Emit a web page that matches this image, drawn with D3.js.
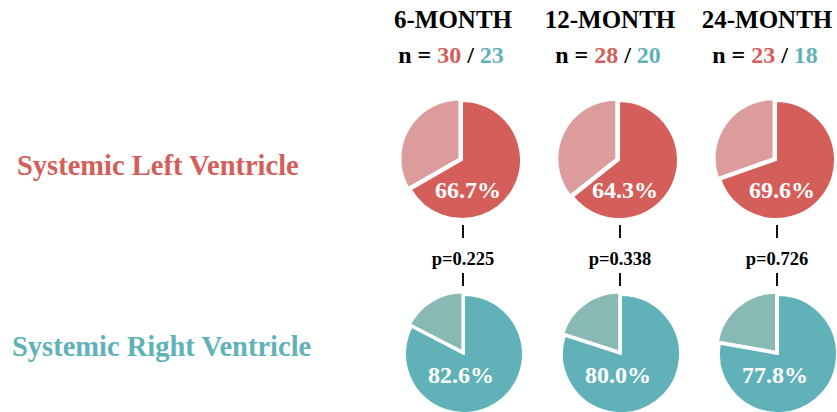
<!DOCTYPE html>
<html><head><meta charset="utf-8">
<script src="https://cdn.jsdelivr.net/npm/d3@7"></script>
<style>body{margin:0;background:#fff}svg{display:block}</style>
</head><body>
<svg id="c" width="837" height="412"></svg>
<script>
const periods = ["6-MONTH", "12-MONTH", "24-MONTH"];
const nLeft = [30, 28, 23];
const nRight = [23, 20, 18];
const leftPct = [66.7, 64.3, 69.6];
const rightPct = [82.6, 80.0, 77.8];
const pValues = ["0.225", "0.338", "0.726"];
const rowLabels = ["Systemic Left Ventricle", "Systemic Right Ventricle"];

const RED = "#d45e5a", RED_L = "#dc9c9b", TEAL = "#60b2b8", TEAL_L = "#89b9b5";
const FONT = "'Liberation Serif', 'Times New Roman', Times, 'DejaVu Serif', serif";

const svg = d3.select("#c").attr("font-family", FONT).attr("font-weight", "bold");
const x = d3.scalePoint().domain(periods).range([462, 776]);
const y = d3.scalePoint().domain(rowLabels).range([160, 354]);
const R = 59;

// headers
periods.forEach((p, i) => {
  const cx = x(p);
  svg.append("text").attr("x", cx - 9).attr("y", 28).attr("text-anchor", "middle")
    .attr("font-size", 25).attr("fill", "#000").text(p);
  const t = svg.append("text").attr("x", cx - 11).attr("y", 63).attr("text-anchor", "middle")
    .attr("font-size", 24).attr("fill", "#000");
  t.append("tspan").text("n = ");
  t.append("tspan").attr("fill", RED).text(nLeft[i]);
  t.append("tspan").text(" / ");
  t.append("tspan").attr("fill", TEAL).text(nRight[i]);
});

// row labels
svg.append("text").attr("x", 17).attr("y", 175).attr("font-size", 28.5)
  .attr("fill", RED).text(rowLabels[0]);
svg.append("text").attr("x", 12).attr("y", 356).attr("font-size", 28.5)
  .attr("fill", TEAL).text(rowLabels[1]);

const pie = d3.pie().sort(null).value(d => d);
const arc = d3.arc().innerRadius(0).outerRadius(R);

function drawPie(cx, cy, pct, dark, light, lx, ly) {
  const g = svg.append("g").attr("transform", `translate(${cx},${cy})`);
  const arcs = pie([pct, 100 - pct]);
  arcs.forEach((a, j) => {
    let tx = 0, ty = 0;
    if (j === 1) {
      const m = (a.startAngle + a.endAngle) / 2;
      tx = Math.sin(m) * 3; ty = -Math.cos(m) * 3;
    }
    g.append("path").attr("d", arc(a)).attr("transform", `translate(${tx},${ty})`)
      .attr("fill", j === 0 ? dark : light).attr("stroke", "#fff").attr("stroke-width", 2)
      .attr("stroke-linejoin", "round");
  });
  g.append("text").attr("x", lx).attr("y", ly).attr("text-anchor", "middle")
    .attr("font-size", 24).attr("fill", "#fff").text(pct.toFixed(1) + "%");
}

periods.forEach((p, i) => {
  drawPie(x(p), y(rowLabels[0]), leftPct[i], RED, RED_L, 6, 38);
  drawPie(x(p) + 2, y(rowLabels[1]), rightPct[i], TEAL, TEAL_L, -3, 29);
  const cx = x(p) + 1;
  svg.append("line").attr("x1", cx).attr("x2", cx).attr("y1", 225).attr("y2", 238)
    .attr("stroke", "#111").attr("stroke-width", 2);
  svg.append("line").attr("x1", cx).attr("x2", cx).attr("y1", 273).attr("y2", 286)
    .attr("stroke", "#111").attr("stroke-width", 2);
  svg.append("text").attr("x", cx).attr("y", 265).attr("text-anchor", "middle")
    .attr("font-size", 18.5).attr("fill", "#000").text("p=" + pValues[i]);
});
</script>
</body></html>
